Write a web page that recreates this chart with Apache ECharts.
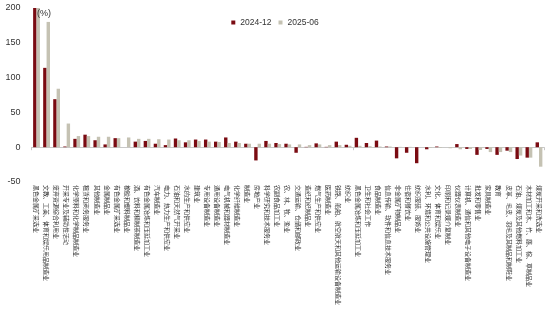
<!DOCTYPE html>
<html>
<head>
<meta charset="utf-8">
<script src="https://cdn.jsdelivr.net/npm/echarts@6/dist/echarts.min.js"></script>
<style>
  html, body { margin: 0; padding: 0; background: #fff; }
  #chart { width: 550px; height: 323px; }
</style>
</head>
<body>
<div id="chart"></div>
<script>
// 行业分类
const categories = [
  '黑色金属矿采选业', '文教、工美、体育和娱乐用品制造业', '废弃资源综合利用业', '开采专业及辅助性活动',
  '化学原料和化学制品制造业', '租赁和商务服务业', '其他制造业', '金属制品业', '有色金属矿采选业',
  '橡胶和塑料制品业', '酒、饮料和精制茶制造业', '有色金属冶炼和压延加工业', '汽车制造业',
  '电力、热力生产和供应业', '石油和天然气开采业', '水的生产和供应业', '建筑业', '专用设备制造业',
  '通用设备制造业', '电气机械和器材制造业', '化学纤维制造业', '制造业', '房地产业',
  '科学研究和技术服务业', '农副食品加工业', '农、林、牧、渔业', '交通运输、仓储和邮政业',
  '造纸和纸制品业', '燃气生产和供应业', '医药制造业', '铁路、船舶、航空航天和其他运输设备制造业',
  '纺织业', '黑色金属冶炼和压延加工业', '卫生和社会工作', '食品制造业',
  '信息传输、软件和信息技术服务业', '非金属矿物制品业', '住宿和餐饮业', '纺织服装、服饰业',
  '水利、环境和公共设施管理业', '文化、体育和娱乐业', '印刷和记录媒介复制业', '仪器仪表制造业',
  '计算机、通信和其他电子设备制造业', '批发和零售业', '家具制造业', '教育',
  '皮革、毛皮、羽毛及其制品和制鞋业', '石油、煤炭及其他燃料加工业',
  '木材加工和木、竹、藤、棕、草制品业', '煤炭开采和洗选业'
];

// 2024-12 同比（%）
const values2412 = [
  200, 114, 69, 1, 12, 18, 10, 4, 13, 0,
  8, 9, 5, 3, 12.5, 7, 11, 11, 8, 14,
  8, 5, -19, 9, 6, 5, -8, 0.5, 5.5, 0.5,
  8, 3.5, 13.5, 6, 9.5, 1, -16, -8, -23, -3,
  1, 0, 4.5, -2.5, -11, -2.5, -11, -5, -17, -15,
  7
];

// 2025-06 同比（%）
const values2506 = [
  200, 180, 84, 34, 16, 16, 15, 15, 13, 14,
  12, 12, 11.5, 11, 10, 10, 9, 8, 7.5, 6,
  6, 5, 5, 5, 4.5, 4, 4, 3, 4, 3,
  3, 2, 2, 1.5, 1, 1, 0.5, 0.5, 0, -1,
  -1, -1.5, -3, -2.5, -4, -7, -7, -7, -12, -15,
  -28
];

const yTicks = { min: -50, max: 200, interval: 50 };

const chart = echarts.init(document.getElementById('chart'), null, { renderer: 'canvas' });

chart.setOption({
  animation: false,
  backgroundColor: '#ffffff',
  grid: { left: 31.5, right: 6, top: 8, bottom: 141, containLabel: false },
  legend: {
    top: 13,
    left: 'center',
    itemWidth: 4,
    itemHeight: 4,
    itemGap: 7,
    icon: 'rect',
    textStyle: { fontFamily: 'Liberation Sans, Arial, sans-serif', fontSize: 8.5, color: '#333' },
    data: ['2024-12', '2025-06']
  },
  graphic: [{
    type: 'text',
    left: 37,
    top: 9,
    z: 100,
    style: { text: '(%)', fontFamily: 'Liberation Sans, Arial, sans-serif', fontSize: 9, fill: '#333' }
  }],
  xAxis: [
    {
      type: 'category',
      data: categories,
      position: 'bottom',
      axisLine: { onZero: true, lineStyle: { color: '#c8c8c8', width: 1 } },
      axisTick: { show: true, length: 3, lineStyle: { color: '#c8c8c8' } },
      axisLabel: { show: false },
      splitLine: { show: false }
    },
    {
      type: 'category',
      data: categories,
      position: 'bottom',
      axisLine: { show: false, onZero: false },
      axisTick: { show: false },
      axisLabel: {
        interval: 0,
        rotate: -90,
        margin: 3,
        fontSize: 6,
        color: '#333',
        fontFamily: 'Noto Sans CJK SC, sans-serif'
      },
      splitLine: { show: false }
    }
  ],
  yAxis: {
    type: 'value',
    min: yTicks.min,
    max: yTicks.max,
    interval: yTicks.interval,
    axisLine: { show: false },
    axisTick: { show: false },
    splitLine: { show: false },
    axisLabel: {
      margin: 11,
      fontSize: 9,
      color: '#333',
      fontFamily: 'Liberation Sans, Arial, sans-serif'
    }
  },
  series: [
    {
      name: '2024-12',
      type: 'bar',
      xAxisIndex: 0,
      data: values2412,
      barWidth: 3.4,
      barGap: '0%',
      itemStyle: { color: '#7a0b12' }
    },
    {
      name: '2025-06',
      type: 'bar',
      xAxisIndex: 0,
      data: values2506,
      barWidth: 3.4,
      barGap: '0%',
      itemStyle: { color: '#c5c2b3' }
    }
  ]
});
</script>
</body>
</html>
